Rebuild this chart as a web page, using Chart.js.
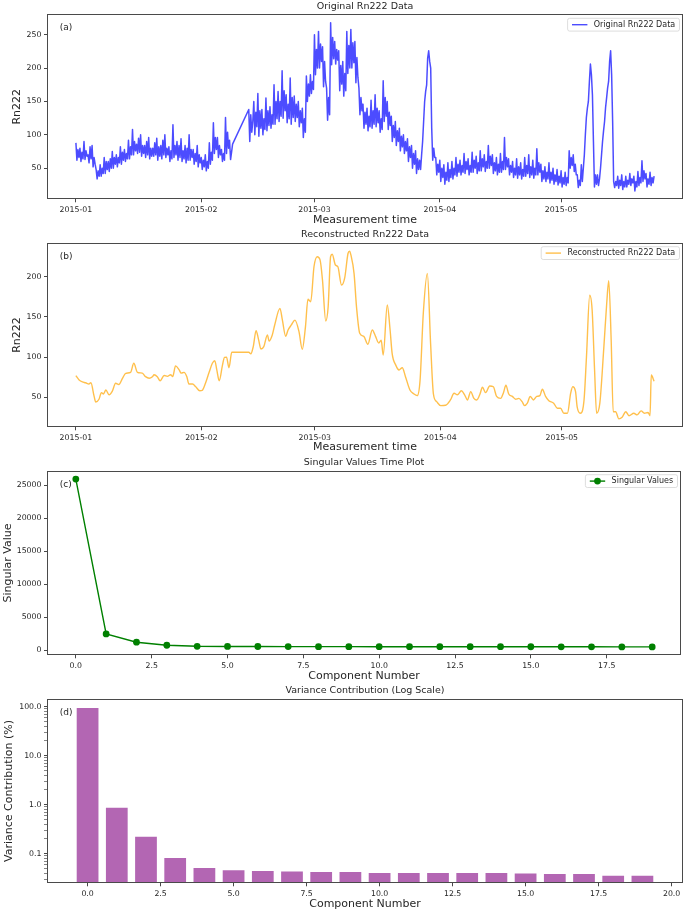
<!DOCTYPE html>
<html>
<head>
<meta charset="utf-8">
<script src="https://cdn.jsdelivr.net/npm/chart.js@4.4.1/dist/chart.umd.min.js"></script>
<style>
html,body{margin:0;padding:0;background:#fff;}
#wrap{position:relative;width:685px;height:913px;overflow:hidden;background:#fff;}
#wrap canvas{position:absolute;left:0;}
</style>
</head>
<body>
<div id="wrap">
<canvas id="c1" width="685" height="228" style="top:0px;width:685px;height:228px"></canvas>
<canvas id="c2" width="685" height="227" style="top:228px;width:685px;height:227px"></canvas>
<canvas id="c3" width="685" height="228" style="top:455px;width:685px;height:228px"></canvas>
<canvas id="c4" width="685" height="230" style="top:683px;width:685px;height:230px"></canvas>
</div>
<script>
// ---------------- DATA ----------------
// (a) original Rn222 series, four readings per day from 2015-01-01 (null = no measurement)
const rnStartDate = '2015-01-01';
const rnSamplesPerDay = 4;
const rnValues = [
  // Jan 1-10
  88,62,78,66, 80,60,74,64, 90,63,76,68, 70,58,82,64, 84,52,66,56, 48,34,46,38, 55,38,50,42, 66,42,60,48, 60,45,64,50, 75,50,66,56,
  // Jan 11-20
  70,52,66,58, 82,56,74,62, 78,60,72,64, 92,64,82,70, 108,70,90,76, 86,72,95,74, 100,68,84,72, 84,66,90,70, 96,64,80,68, 80,68,88,70,
  // Jan 21-30
  95,62,82,68, 84,64,92,70, 100,66,80,70, 82,60,76,64, 115,66,84,70, 90,62,84,66, 94,60,76,64, 84,58,80,62, 100,62,78,66, 78,56,72,60,
  // Jan 31 - Feb 8
  84,52,70,58, 66,48,62,52, 70,46,60,50, 88,56,74,62, 118,72,96,78, 96,66,84,70, 78,60,72,62, 126,72,104,80, 92,63,74,86,
  // gap Feb 9-12
  null,null,null,null, null,null,null,null, null,null,null,null, null,null,null,138,
  // Feb 13-19
  90,130,104,120, 150,100,134,112, 162,98,136,110, 138,100,124,108, 155,106,136,114, 142,110,130,116, 175,116,150,124,
  // Feb 20 - Mar 1
  165,120,150,128, 196,125,166,136, 160,118,146,124, 185,116,156,126, 158,120,146,126, 150,112,136,118, 140,96,124,104, 188,150,176,158, 190,162,180,168, 250,190,228,200,
  // Mar 2-11
  255,200,236,210, 232,172,210,180, 170,122,156,130, 268,205,246,214, 240,206,228,212, 226,166,204,176, 210,158,192,166, 255,192,234,200, 258,200,238,208, 240,178,216,186,
  // Mar 12-21
  170,130,156,136, 146,110,134,116, 140,106,128,112, 152,110,136,116, 160,112,140,118, 136,104,124,108, 181,120,156,128, 150,108,134,114, 128,90,114,96, 120,84,106,90,
  // Mar 22-31
  110,76,98,82, 100,72,90,76, 94,60,82,66, 84,50,72,56, 76,42,64,48, 62,48,70,90, 120,150,165,175, 215,226,210,200, 110,62,80,66, 66,40,56,44,
  // Apr 1-10
  62,30,50,36, 55,26,44,32, 58,30,48,36, 60,34,50,40, 66,38,56,44, 62,40,54,44, 72,42,60,48, 64,40,54,44, 74,44,62,50, 68,42,58,46,
  // Apr 11-20
  76,46,64,52, 70,45,60,50, 84,50,68,54, 70,42,58,46, 66,40,56,44, 72,44,60,48, 96,48,66,52, 64,40,54,44, 60,36,50,40, 64,35,52,40,
  // Apr 21-30
  58,34,48,38, 66,38,54,42, 70,36,52,40, 62,35,50,40, 79,40,58,44, 56,30,46,34, 52,30,44,34, 58,28,44,32, 50,26,40,30, 48,25,38,28,
  // May 1-10
  46,22,36,26, 44,24,36,28, 76,50,66,54, 70,45,56,40, 40,21,32,24, 55,30,50,70, 100,126,140,150, 180,206,190,160, 90,22,40,26, 40,24,34,50,
  // May 11-20
  70,90,106,120, 141,155,170,180, 210,226,190,120, 30,21,30,24, 38,20,32,24, 40,18,30,22, 38,22,32,26, 42,24,34,28, 38,16,30,22, 45,24,36,28,
  // May 21-24
  61,30,46,34, 42,22,34,26, 44,24,36,28, 38
];

// (b) reconstructed series: day offset from 2015-01-01 and value
const recDays = [
  0.0,0.8,1.6,2.4,3.2,3.7,4.5,4.9,5.7,6.3,6.8,7.4,8.2,9.0,9.8,10.6,11.5,12.3,13.5,14.3,
  15.2,16.4,17.2,18.1,18.9,19.3,20.1,20.8,21.8,22.6,23.4,23.9,24.6,25.5,26.0,26.7,27.4,27.9,28.8,29.6,
  30.6,31.2,32.0,32.9,33.7,34.3,34.8,35.4,36.2,36.7,37.2,37.8,38.5,42.7,43.2,43.8,44.5,45.1,45.7,46.4,
  47.3,47.7,48.5,49.1,50.4,51.0,51.8,52.4,53.2,54.1,55.1,55.9,56.7,57.3,58.0,58.8,59.6,60.3,60.9,61.7,
  62.3,62.9,63.3,64.1,64.7,65.6,66.4,67.2,67.6,67.9,68.7,69.3,70.1,71.1,72.1,73.2,74.0,74.8,75.4,75.9,
  76.9,77.6,78.1,79.0,79.8,80.6,81.4,82.5,83.5,84.3,85.0,85.8,86.8,87.6,88.3,89.1,90.1,91.3,92.5,93.4,
  94.2,95.2,96.0,96.7,97.5,98.3,99.0,99.8,100.4,101.2,102.2,103.1,103.9,104.9,105.6,106.2,106.9,107.8,108.6,109.4,
  110.2,110.8,111.5,112.2,113.0,113.8,114.6,115.2,116.0,116.8,118.0,118.9,119.7,120.5,121.4,122.2,122.7,123.4,123.8,124.6,
  125.5,126.1,126.9,127.5,128.1,128.6,129.4,130.4,131.1,131.6,132.2,132.7,133.3,134.1,134.9,135.8,136.6,137.8,138.6,139.6,
  140.4,141.3,141.8,142.1,142.8
];
const recValues = [
  77,71.5,69,68,66.5,68,51,44,47.5,55.7,54,59,53,57.7,67.4,65.8,73.6,79.8,81,92.3,
  81,80,75.6,73.6,75.6,78,75.6,70.5,77,76,78,75.6,89,84,80,81,75.6,66.5,66.5,63,
  58,58.5,67.4,81,92.3,95.5,84,70.5,90,99.7,100,86.7,106,106,104,113,133,122,110,113,
  127.6,120,127.6,140,160.7,146,126,133.7,140,146,131.7,109.7,138,172,169,212.5,225,221,196,145,
  162.7,225,228,214.6,212.5,189.7,199,229,232,227.5,204,162.7,129.6,125.8,116,133.7,125.8,117.5,121,102.6,
  164.8,133.7,104.7,90,84,86.7,75.6,59,54,52,71,154.5,204,117,54,44.5,39.6,40,46.6,55,
  53,58,53,46.6,57,48.6,46.6,54,62.4,55.7,64,63,51,48.6,55.7,65,54,51,47.5,48.6,
  44.5,39.6,42.6,51,46.6,51,52,60,51,45.7,42.6,36.3,36.3,30,30,55,63,57,38,30,
  46.6,100.4,177,158.6,84,30,42.6,113,167,195,121.3,32,32,23,25,32,27,30,28,33,
  30,31,27,77.7,70
];

const monthTicks = [0, 31, 59, 90, 120];
const monthLabels = ['2015-01', '2015-02', '2015-03', '2015-04', '2015-05'];
const rnYTicks = [50, 100, 150, 200, 250];
const recYTicks = [50, 100, 150, 200];

// (c) singular values
const componentNumbers = [0,1,2,3,4,5,6,7,8,9,10,11,12,13,14,15,16,17,18,19];
const singularValues = [25950, 2480, 1220, 760, 600, 575, 565, 555, 548, 548, 540, 540, 540, 540, 540, 530, 525, 525, 505, 505];
const svXTicks = [0, 2.5, 5, 7.5, 10, 12.5, 15, 17.5];
const svYTicks = [0, 5000, 10000, 15000, 20000, 25000];

// (d) variance contribution (%)
const varianceContribution = [98.1, 0.9, 0.23, 0.085, 0.053, 0.048, 0.046, 0.045, 0.044, 0.044, 0.042, 0.042, 0.042, 0.042, 0.042, 0.041, 0.040, 0.040, 0.037, 0.037];
const varXTicks = [0, 2.5, 5, 7.5, 10, 12.5, 15, 17.5, 20];
const varYTicks = [0.1, 1, 10, 100];
const varYMinorTicks = [0.03,0.04,0.05,0.06,0.07,0.08,0.09,0.2,0.3,0.4,0.5,0.6,0.7,0.8,0.9,2,3,4,5,6,7,8,9,20,30,40,50,60,70,80,90];

// ---------------- STYLE / HELPERS ----------------
const FONT = "'DejaVu Sans', 'Liberation Sans', sans-serif";
const TXT = '#262626';

function padRange(lo, hi, f) { const m = (hi - lo) * (f || 0.05); return [lo - m, hi + m]; }

Chart.register({
  id: 'frame',
  afterDatasetsDraw(chart) {
    const a = chart.chartArea, ctx = chart.ctx;
    ctx.save();
    ctx.strokeStyle = '#4a4a4a';
    ctx.lineWidth = 1;
    ctx.strokeRect(Math.round(a.left) + 0.5, Math.round(a.top) + 0.5,
                   Math.round(a.right) - Math.round(a.left) - 1, Math.round(a.bottom) - Math.round(a.top) - 1);
    ctx.restore();
  }
});

Chart.register({
  id: 'panelTag',
  afterDraw(chart, args, opts) {
    if (!opts || !opts.text) return;
    const a = chart.chartArea, ctx = chart.ctx;
    ctx.save();
    ctx.font = '9px ' + FONT;
    ctx.fillStyle = TXT;
    ctx.textAlign = 'left';
    ctx.textBaseline = 'top';
    ctx.fillText(opts.text, a.left + 0.02 * (a.right - a.left), a.top + 0.05 * (a.bottom - a.top));
    ctx.restore();
  }
});

Chart.register({
  id: 'innerLegend',
  afterDraw(chart, args, opts) {
    if (!opts || !opts.show) return;
    const ds = chart.data.datasets[0];
    const a = chart.chartArea, ctx = chart.ctx;
    ctx.save();
    ctx.font = '8px ' + FONT;
    const tw = ctx.measureText(ds.label).width;
    const h = 12.8;
    const w = 26.2 + tw + 4.3;
    const x = a.right - 3.5 - w, y = a.top + 4;
    const r = 2;
    ctx.beginPath();
    ctx.moveTo(x + r, y);
    ctx.lineTo(x + w - r, y); ctx.quadraticCurveTo(x + w, y, x + w, y + r);
    ctx.lineTo(x + w, y + h - r); ctx.quadraticCurveTo(x + w, y + h, x + w - r, y + h);
    ctx.lineTo(x + r, y + h); ctx.quadraticCurveTo(x, y + h, x, y + h - r);
    ctx.lineTo(x, y + r); ctx.quadraticCurveTo(x, y, x + r, y);
    ctx.closePath();
    ctx.fillStyle = 'rgba(255,255,255,0.85)';
    ctx.fill();
    ctx.strokeStyle = '#d4d4d4';
    ctx.lineWidth = 0.8;
    ctx.stroke();
    const cy = y + h / 2;
    ctx.strokeStyle = ds.borderColor;
    ctx.lineWidth = Math.min(ds.borderWidth, 1.4);
    ctx.beginPath();
    ctx.moveTo(x + 4.4, cy); ctx.lineTo(x + 19.8, cy);
    ctx.stroke();
    if (opts.marker) {
      ctx.fillStyle = ds.pointBackgroundColor;
      ctx.beginPath();
      ctx.arc(x + 12.1, cy, ds.pointRadius, 0, Math.PI * 2);
      ctx.fill();
    }
    ctx.fillStyle = TXT;
    ctx.textAlign = 'left';
    ctx.textBaseline = 'middle';
    ctx.fillText(ds.label, x + 26.2, cy + 0.3);
    ctx.restore();
  }
});

function axis(o) {
  return {
    type: o.type || 'linear',
    min: o.min, max: o.max,
    offset: false,
    afterBuildTicks: s => { s.ticks = o.ticks.map(v => ({ value: v })); },
    afterFit: s => {
      if (o.width != null) s.width = o.width;
      if (o.height != null) s.height = o.height;
    },
    ticks: {
      font: { family: FONT, size: 7.8 }, color: TXT, padding: 2.5,
      autoSkip: false, maxRotation: 0, minRotation: 0,
      callback: o.fmt
    },
    grid: {
      display: true, drawOnChartArea: false, drawTicks: true, offset: false,
      tickLength: 3, tickColor: '#333', tickWidth: o.tickWidth || 0.9
    },
    border: { display: false },
    title: {
      display: true, text: o.title, color: TXT,
      font: { family: FONT, size: 11 }, padding: o.titlePad
    }
  };
}

function baseOptions(o) {
  return {
    responsive: false,
    animation: false,
    events: [],
    layout: { padding: { top: 0, right: 2, bottom: o.padBottom, left: 0 } },
    plugins: {
      legend: { display: false },
      tooltip: { enabled: false },
      title: {
        display: true, text: o.title, color: TXT, fullSize: false,
        font: { family: FONT, size: 9.5, weight: 'normal' },
        padding: o.titlePad
      },
      panelTag: { text: o.tag },
      innerLegend: { show: o.legend, marker: o.marker }
    },
    scales: { x: o.x, y: o.y }
  };
}

// ---------------- (a) ORIGINAL ----------------
const rnDays = rnValues.map((v, i) => i / rnSamplesPerDay);
const rnValid = rnValues.filter(v => v !== null);
const rnX = padRange(rnDays[0], rnDays[rnDays.length - 1]);
const rnY = padRange(Math.min(...rnValid), Math.max(...rnValid));
const monthFmt = (v, i) => monthLabels[i];

new Chart(document.getElementById('c1'), {
  type: 'line',
  data: {
    datasets: [{
      label: 'Original Rn222 Data',
      data: rnValues.map((v, i) => ({ x: rnDays[i], y: v })),
      borderColor: 'rgba(0,0,255,0.7)', borderWidth: 1.5,
      pointRadius: 0, tension: 0, spanGaps: true, borderJoinStyle: 'round'
    }]
  },
  options: baseOptions({
    title: 'Original Rn222 Data', titlePad: { top: 0.5, bottom: 2.4 },
    padBottom: 0.7, tag: '(a)', legend: true,
    x: axis({ min: rnX[0], max: rnX[1], ticks: monthTicks, fmt: monthFmt, height: 28,
              title: 'Measurement time', titlePad: { top: 0, bottom: 0.3 } }),
    y: axis({ min: rnY[0], max: rnY[1], ticks: rnYTicks, fmt: v => String(v), width: 47,
              title: 'Rn222', titlePad: { top: 10.9, bottom: 0 } })
  })
});

// ---------------- (b) RECONSTRUCTED ----------------
const recX = padRange(recDays[0], recDays[recDays.length - 1]);
const recY = padRange(Math.min(...recValues), Math.max(...recValues));

new Chart(document.getElementById('c2'), {
  type: 'line',
  data: {
    datasets: [{
      label: 'Reconstructed Rn222 Data',
      data: recDays.map((d, i) => ({ x: d, y: recValues[i] })),
      borderColor: 'rgba(255,165,0,0.7)', borderWidth: 1.4,
      pointRadius: 0, cubicInterpolationMode: 'monotone'
    }]
  },
  options: baseOptions({
    title: 'Reconstructed Rn222 Data', titlePad: { top: 1.3, bottom: 2.0 },
    padBottom: 0.2, tag: '(b)', legend: true,
    x: axis({ min: recX[0], max: recX[1], ticks: monthTicks, fmt: monthFmt, height: 27.5,
              title: 'Measurement time', titlePad: { top: 0, bottom: 0.9 } }),
    y: axis({ min: recY[0], max: recY[1], ticks: recYTicks, fmt: v => String(v), width: 47,
              title: 'Rn222', titlePad: { top: 10.9, bottom: 0 } })
  })
});

// ---------------- (c) SINGULAR VALUES ----------------
const svX = padRange(componentNumbers[0], componentNumbers[componentNumbers.length - 1]);
const svY = padRange(Math.min(...singularValues), Math.max(...singularValues));

new Chart(document.getElementById('c3'), {
  type: 'line',
  data: {
    datasets: [{
      label: 'Singular Values',
      data: componentNumbers.map((c, i) => ({ x: c, y: singularValues[i] })),
      borderColor: '#008000', borderWidth: 1.4,
      pointRadius: 3.4, pointBackgroundColor: '#008000', pointBorderWidth: 0,
      tension: 0
    }]
  },
  options: baseOptions({
    title: 'Singular Values Time Plot', titlePad: { top: 2.3, bottom: 2.0 },
    padBottom: 0.2, tag: '(c)', legend: true, marker: true,
    x: axis({ min: svX[0], max: svX[1], ticks: svXTicks, fmt: v => Number(v).toFixed(1), height: 27.5,
              title: 'Component Number', titlePad: { top: 0, bottom: 0.5 } }),
    y: axis({ min: svY[0], max: svY[1], ticks: svYTicks, fmt: v => String(v), width: 47,
              title: 'Singular Value', titlePad: { top: 1.3, bottom: 0 } })
  })
});

// ---------------- (d) VARIANCE CONTRIBUTION ----------------
const barHalf = 0.4;
const varX = padRange(componentNumbers[0] - barHalf, componentNumbers[componentNumbers.length - 1] + barHalf);
const varLog = padRange(Math.log10(Math.min(...varianceContribution)), Math.log10(Math.max(...varianceContribution)));
const isMajorLog = v => Math.abs(Math.log10(v) - Math.round(Math.log10(v))) < 1e-9;
const varYAll = varYMinorTicks.concat(varYTicks).sort((p, q) => p - q);
const varYAxis = axis({ type: 'logarithmic', min: Math.pow(10, varLog[0]), max: Math.pow(10, varLog[1]),
  ticks: varYAll, fmt: v => isMajorLog(v) ? Number(v).toFixed(1) : '', width: 47,
  title: 'Variance Contribution (%)', titlePad: { top: 3.0, bottom: 0 } });
varYAxis.grid.tickWidth = ctx => (ctx.tick && isMajorLog(ctx.tick.value)) ? 0.9 : 0.6;

new Chart(document.getElementById('c4'), {
  type: 'bar',
  data: {
    datasets: [{
      label: 'Variance Contribution',
      data: componentNumbers.map((c, i) => ({ x: c, y: varianceContribution[i] })),
      backgroundColor: 'rgba(128,0,128,0.6)',
      borderColor: 'rgba(255,255,255,0.5)', borderWidth: 0.8,
      barPercentage: 0.8, categoryPercentage: 1.0
    }]
  },
  options: baseOptions({
    title: 'Variance Contribution (Log Scale)', titlePad: { top: 2.3, bottom: 2.0 },
    padBottom: 2.2, tag: '(d)', legend: false,
    x: axis({ min: varX[0], max: varX[1], ticks: varXTicks, fmt: v => Number(v).toFixed(1), height: 27.5,
              title: 'Component Number', titlePad: { top: 0, bottom: 0.5 } }),
    y: varYAxis
  })
});
</script>
</body>
</html>
